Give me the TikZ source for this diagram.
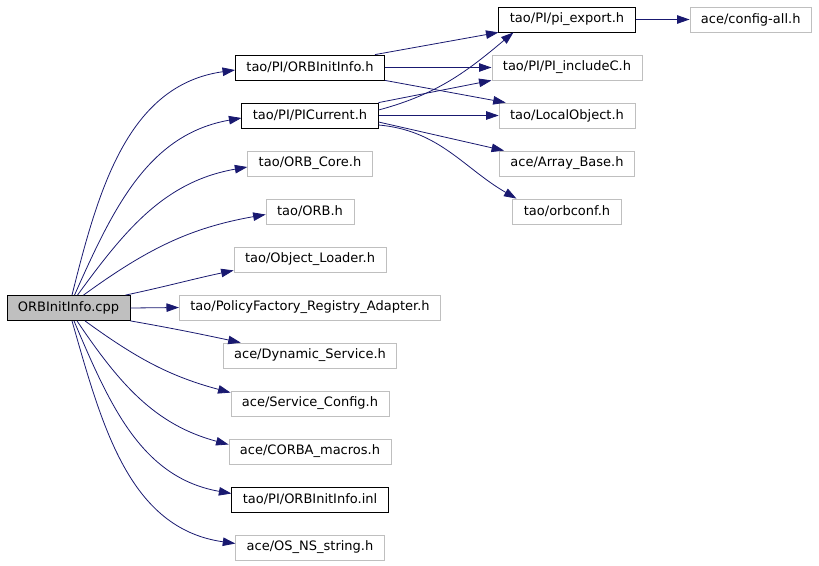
\documentclass[tikz,border=0pt]{standalone}
\usepackage{fontspec}
\setmainfont{DejaVu Sans}
\usetikzlibrary{positioning,arrows.meta}
\definecolor{edgeblue}{HTML}{191970}
\definecolor{lightframe}{HTML}{BFBFBF}
\tikzset{
  file/.style={draw, line width=0.8pt, minimum height=25pt, inner xsep=11pt, inner ysep=0pt,
    font=\fontsize{13}{15}\selectfont},
  docfile/.style={file, draw=black},
  extfile/.style={file, draw=lightframe},
  dep/.style={draw=edgeblue, line width=0.8pt, -{Triangle[length=12.5pt,width=8.5pt]}},
}
\begin{document}
\begin{tikzpicture}[x=1pt, y=1pt, node distance=48pt]
\useasboundingbox (0,0) rectangle (819,-565);
\node[docfile, fill=lightframe] (cpp) at (68.5,-308) {ORBInitInfo.cpp};
\node[docfile] (infoh) at (310,-67.5) {tao/PI/ORBInitInfo.h};
\node[docfile, below of=infoh] (cur) {tao/PI/PICurrent.h};
\node[extfile, below of=cur] (core) {tao/ORB\_Core.h};
\node[extfile, below of=core] (orb) {tao/ORB.h};
\node[extfile, below of=orb] (loader) {tao/Object\_Loader.h};
\node[extfile, below of=loader] (policy) {tao/PolicyFactory\_Registry\_Adapter.h};
\node[extfile, below of=policy] (dyn) {ace/Dynamic\_Service.h};
\node[extfile, below of=dyn] (svc) {ace/Service\_Config.h};
\node[extfile, below of=svc] (macros) {ace/CORBA\_macros.h};
\node[docfile, below of=macros] (inl) {tao/PI/ORBInitInfo.inl};
\node[extfile, below of=inl] (nsstr) {ace/OS\_NS\_string.h};
\node[docfile] (export) at (567,-19.5) {tao/PI/pi\_export.h};
\node[extfile, right=54pt of export] (config) {ace/config-all.h};
\node[extfile, below of=export] (includec) {tao/PI/PI\_includeC.h};
\node[extfile, below of=includec] (local) {tao/LocalObject.h};
\node[extfile, below of=local] (array) {ace/Array\_Base.h};
\node[extfile, below of=array] (orbconf) {tao/orbconf.h};
\draw[dep] ([xshift=3.5pt]cpp.north) to[out=76, in=188] ([yshift=-2.5pt]infoh.west);
\draw[dep] ([xshift=6pt]cpp.north) to[out=66, in=190] ([yshift=-2.5pt]cur.west);
\draw[dep] ([xshift=9pt]cpp.north) to[out=54, in=190] ([yshift=-3.5pt]core.west);
\draw[dep] ([xshift=15pt]cpp.north) to[out=36, in=190] ([yshift=-3pt]orb.west);
\draw[dep] ([xshift=-5pt]cpp.north east) to[out=12, in=192] ([yshift=2pt]loader.south west);
\draw[dep] (cpp.east) -- (policy.west);
\draw[dep] (cpp.south east) to[out=-10, in=168] ([xshift=18pt]dyn.north west);
\draw[dep] ([xshift=16.5pt]cpp.south) to[out=-36, in=165] ([yshift=-2pt]svc.north west);
\draw[dep] ([xshift=8.5pt]cpp.south) to[out=-56, in=165] ([yshift=7pt]macros.west);
\draw[dep] ([xshift=5.5pt]cpp.south) to[out=-67, in=170] ([yshift=6pt]inl.west);
\draw[dep] ([xshift=3.5pt]cpp.south) to[out=-74, in=172] ([yshift=4pt]nsstr.west);
\draw[dep] ([xshift=-10pt]infoh.north east) -- (export.south west);
\draw[dep] (infoh.east) -- (includec.west);
\draw[dep] (infoh.south east) -- ([xshift=7pt]local.north west);
\draw[dep] (cur.north east) -- (includec.south west);
\draw[dep] ([yshift=5.5pt]cur.east) to[out=15, in=220] ([xshift=15pt]export.south west);
\draw[dep] (cur.east) -- (local.west);
\draw[dep] ([yshift=-6.5pt]cur.east) -- ([xshift=5pt]array.north west);
\draw[dep] ([yshift=-9.5pt]cur.east) to[out=-5, in=150] ([xshift=4pt]orbconf.north west);
\draw[dep] (export.east) -- (config.west);
\end{tikzpicture}
\end{document}
